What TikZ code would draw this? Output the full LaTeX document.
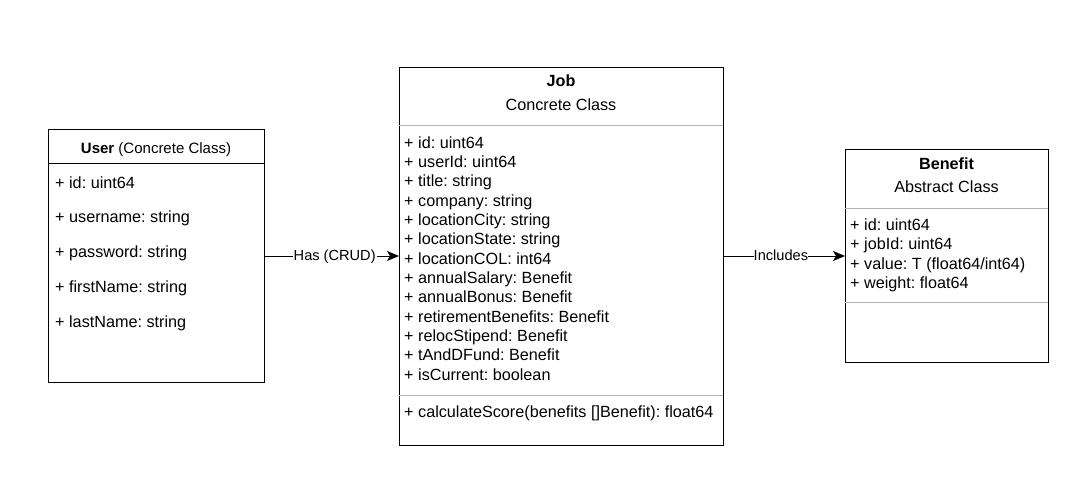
\documentclass[tikz,border=0pt]{standalone}
\usepackage{fontspec}
\setmainfont{Liberation Sans}
\usetikzlibrary{arrows.meta}
\definecolor{sepgrey}{HTML}{B3B3B3}
\begin{document}
\frenchspacing
\begin{tikzpicture}[x=1pt,y=-1pt,
  classbox/.style={draw=black,line width=1pt,fill=white},
  sepline/.style={draw=sepgrey,line width=1pt},
  attr/.style={anchor=west,inner sep=0pt,text height=11pt,text depth=3pt,yshift=-1pt,font=\fontsize{16.2}{18}\selectfont},
  ctext/.style={inner sep=0pt,text height=11pt,text depth=3pt,yshift=-1pt,font=\fontsize{16.2}{18}\selectfont},
  conn/.style={line width=1pt,-{Stealth[length=12pt,width=10pt,inset=3pt]}},
  clabel/.style={fill=white,inner sep=1pt,text height=10pt,text depth=3pt,yshift=-1pt,font=\fontsize{14.6}{17}\selectfont}]
\useasboundingbox (0,0) rectangle (1091,495);
% User
\node[classbox,minimum width=216pt,minimum height=253pt,anchor=north west,inner sep=0pt] (user) at (48,129) {};
\draw[line width=1pt] (48,163) -- (264,163);
\node[ctext,font=\fontsize{15}{18}\selectfont] (usert) at (156,148) {\textbf{User} (Concrete Class)};
\node[attr] (u1) at (55,183) {+ id: uint64};
\node[attr] (u2) at (55,217) {+ username: string};
\node[attr] (u3) at (55,252) {+ password: string};
\node[attr] (u4) at (55,287) {+ firstName: string};
\node[attr] (u5) at (55,322) {+ lastName: string};
% Job
\node[classbox,minimum width=324pt,minimum height=378pt,anchor=north west,inner sep=0pt] (job) at (399,67) {};
\node[ctext] (jobt) at (561,81) {\textbf{Job}};
\node[ctext] (jobs) at (561,105) {Concrete Class};
\draw[sepline] (399,125) -- (723,125);
\foreach \t [count=\i from 0] in {+ id: uint64,+ userId: uint64,+ title: string,+ company: string,+ locationCity: string,+ locationState: string,+ locationCOL: int64,+ annualSalary: Benefit,+ annualBonus: Benefit,+ retirementBenefits: Benefit,+ relocStipend: Benefit,+ tAndDFund: Benefit,+ isCurrent: boolean}
  \node[attr] (j\i) at (404,{143+19.35*\i}) {\t};
\draw[sepline] (399,395) -- (723,395);
\node[attr] (jm) at (404,412) {+ calculateScore(benefits []Benefit): float64};
% Benefit
\node[classbox,minimum width=203pt,minimum height=213pt,anchor=north west,inner sep=0pt] (ben) at (845,149) {};
\node[ctext] (bent) at (946.5,164) {\textbf{Benefit}};
\node[ctext] (bens) at (946.5,187) {Abstract Class};
\draw[sepline] (845,208) -- (1048,208);
\node[attr] (b1) at (850,225) {+ id: uint64};
\node[attr] (b2) at (850,244) {+ jobId: uint64};
\node[attr] (b3) at (850,264) {+ value: T (float64/int64)};
\node[attr] (b4) at (850,283) {+ weight: float64};
\draw[sepline] (845,302) -- (1048,302);
% connectors
\draw[conn] (user.east |- 0,256) -- node[clabel,pos=0.52] {Has (CRUD)} (job.west |- 0,256);
\draw[conn] (job.east |- 0,256) -- node[clabel,inner sep=0pt,pos=0.47] {Includes} (ben.west |- 0,256);
\end{tikzpicture}
\end{document}
